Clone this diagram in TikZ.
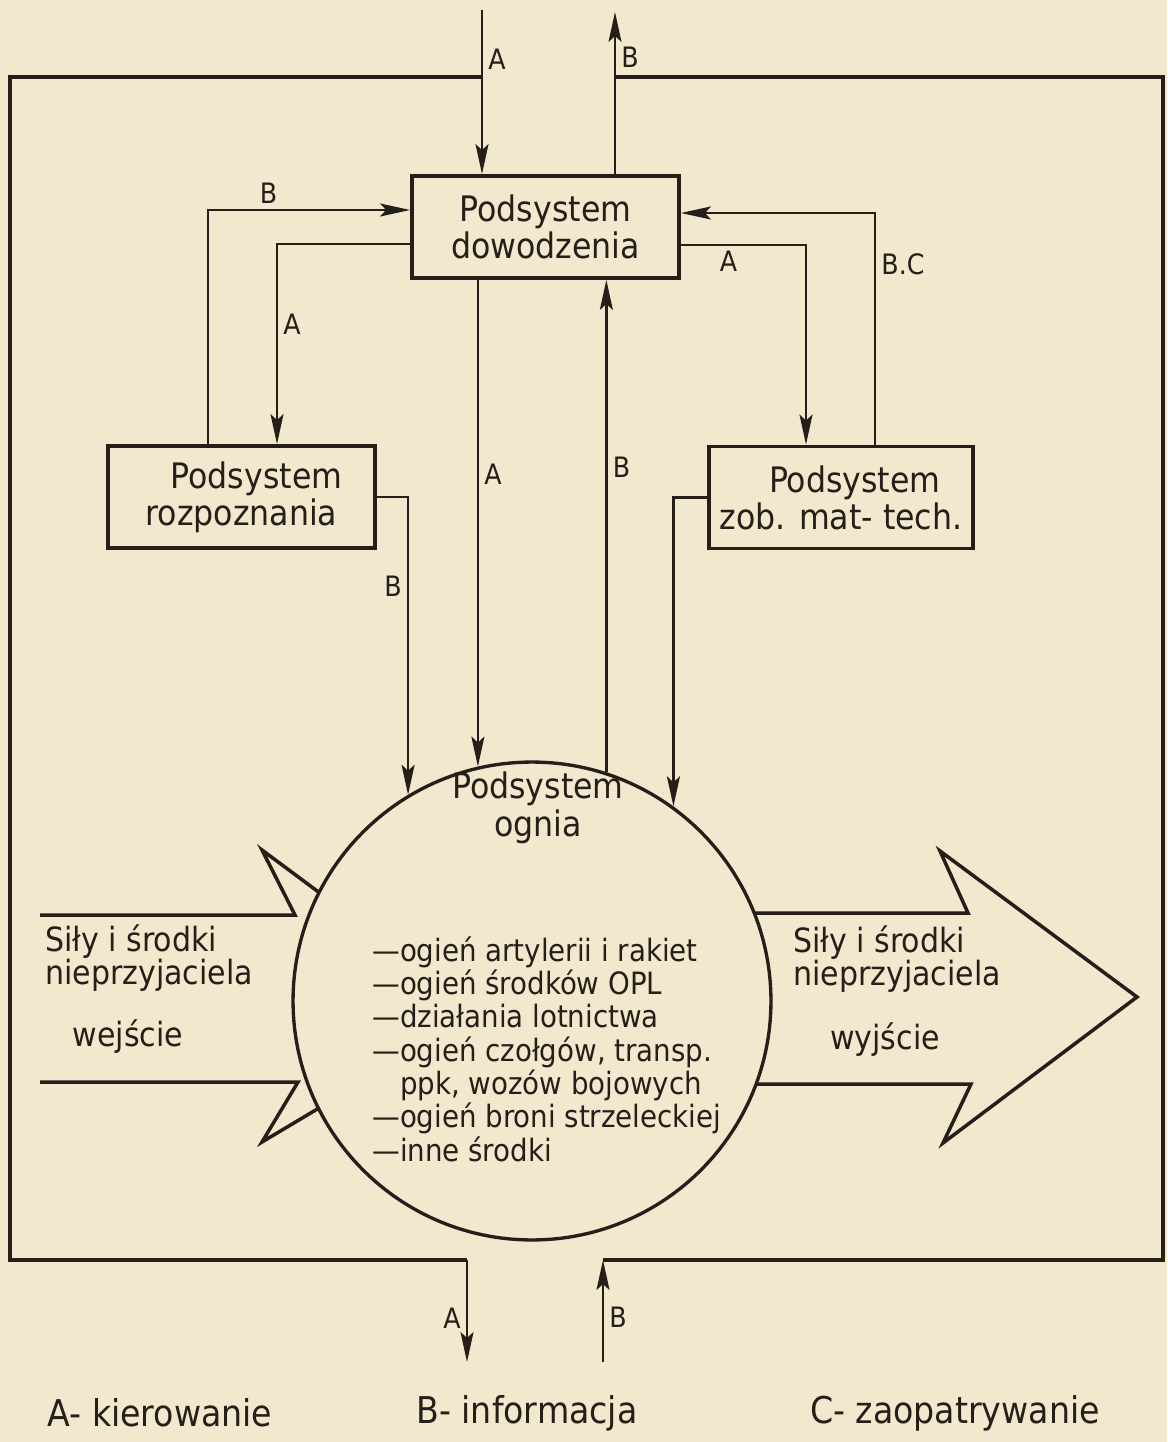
\documentclass[tikz,border=0pt]{standalone}
\usepackage{fontspec}
\setmainfont{DejaVu Sans Condensed}
\usetikzlibrary{arrows.meta}
\definecolor{paper}{RGB}{241,232,206}
\definecolor{ink}{RGB}{38,30,24}
\begin{document}
\begin{tikzpicture}[x=0.02cm,y=-0.02cm,
    box node/.style={rectangle,draw=ink,line width=2.2pt,minimum width=5.34cm,
                     minimum height=2.04cm,align=center,text=ink,
                     font=\fontsize{20}{21}\selectfont},
    fire node/.style={circle,draw=ink,fill=paper,line width=1.9pt,
                      minimum size=9.56cm,inner sep=0pt},
    flow line/.style={draw=ink,line width=1.3pt,-{Stealth[length=6mm,width=2.6mm,inset=1.2mm]}},
    frame line/.style={draw=ink,line width=1.8pt},
    big arrow/.style={draw=ink,line width=2pt,line join=miter},
    tag/.style={text=ink,font=\fontsize{16}{16}\selectfont,inner sep=3pt},
    note/.style={text=ink,font=\fontsize{19}{19}\selectfont,align=left,inner sep=0pt}
  ]
  \fill[paper] (0,0) rectangle (1167,1442);
  \useasboundingbox (0,0) rectangle (1167,1442);

  % wide arrows (behind the circle)
  \draw[big arrow] (40,915) -- (295,915) -- (262,850) -- (480,1012)
                   -- (262,1142) -- (298,1082) -- (40,1082);
  \draw[big arrow] (700,913) -- (968,913) -- (940,851) -- (1137,997)
                   -- (943,1143) -- (971,1084) -- (700,1084);

  \node[box node] (dow) at (545.5,227) {Podsystem\\dowodzenia};
  \node[box node] (roz) at (241.5,497) {\hspace*{0.6cm}Podsystem\\rozpoznania};
  \node[box node,minimum width=5.28cm] (zob) at (841,497.5) {\hspace*{0.55cm}Podsystem\\zob. mat- tech.};
  \node[fire node] (ogn) at (532,1001) {};

  \node[text=ink,align=center,font=\fontsize{20}{21.5}\selectfont] (ognT) at (538,808) {Podsystem\\ognia};
  \node[note,anchor=north west,font=\fontsize{17.5}{19}\selectfont] (list) at (372,936)
    {—ogień artylerii i rakiet\\
     —ogień środków OPL\\
     —działania lotnictwa\\
     —ogień czołgów, transp.\\
     \phantom{—}ppk, wozów bojowych\\
     —ogień broni strzeleckiej\\
     —inne środki};

  \node[note,anchor=north west] (inT) at (45,924) {Siły i środki\\nieprzyjaciela};
  \node[note] (inW) at (128,1037) {wejście};
  \node[note,anchor=north west] (outT) at (793,925) {Siły i środki\\nieprzyjaciela};
  \node[note] (outW) at (885,1040) {wyjście};

  % frame and outer flows
  \coordinate (inA)  at (482,10);
  \coordinate (outB) at (615,12);
  \coordinate (outA) at (467,1362);
  \coordinate (inB)  at (603,1362);
  \coordinate (fTL)  at (10,77);
  \coordinate (fBL)  at (10,1260);
  \coordinate (fBR)  at (1163,1260);
  \coordinate (fTR)  at (1163,77);

  \draw[frame line] (inA |- fTL) -- (fTL) -- (fBL) -- (outA |- fBL);
  \draw[frame line] (inB |- fBR) -- (fBR) -- (fTR) -- (outB |- fTR);
  \draw[flow line] (inA) -- node[tag,pos=0.3,right] (tA1) {A} (inA |- dow.north);
  \draw[flow line] (dow.north -| outB) -- node[tag,pos=0.72,right] (tB1) {B} (outB);
  \draw[flow line] (outA |- fBL) -- node[tag,pos=0.57,left] (tA2) {A} (outA);
  \draw[flow line] (inB) -- node[tag,pos=0.44,right] (tB2) {B} (inB |- fBR);

  % flows between subsystems
  \coordinate (lB)  at (208,210);
  \coordinate (lA)  at (277,244);
  \coordinate (rA)  at (806,245);
  \coordinate (rBC) at (875,213);

  \draw[flow line] (roz.north -| lB) |- node[tag,pos=0.65,above] (tB3) {B} (dow.west |- lB);
  \draw[flow line] (dow.west |- lA) -| node[tag,pos=0.7,right] (tA3) {A} (roz.north -| lA);
  \draw[flow line] (dow.east |- rA) -| node[tag,pos=0.19,below] (tA4) {A} (zob.north -| rA);
  \draw[flow line] (zob.north -| rBC) |- node[tag,pos=0.39,right] (tBC) {B.C} (dow.east |- rBC);
  \draw[flow line] (dow.south -| ogn.103) -- node[tag,pos=0.4,right] (tA5) {A} (ogn.103);
  \draw[flow line] (ogn.72) -- node[tag,pos=0.62,right] (tB4) {B} (dow.south -| ogn.72);
  \draw[flow line] (roz.east) -| node[tag,pos=0.65,left] (tB5) {B} (ogn.121);
  \draw[flow line] (zob.west) -| (ogn.54);

  % legend
  \node[text=ink,font=\fontsize{21}{21}\selectfont] (legA) at (160,1413) {A- kierowanie};
  \node[text=ink,font=\fontsize{21}{21}\selectfont] (legB) at (527,1413) {B- informacja};
  \node[text=ink,font=\fontsize{21}{21}\selectfont] (legC) at (955,1413) {C- zaopatrywanie};
\end{tikzpicture}
\end{document}
